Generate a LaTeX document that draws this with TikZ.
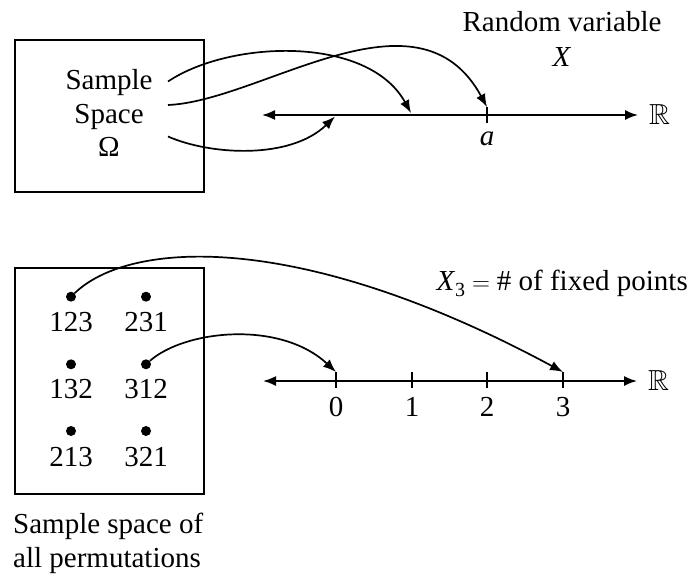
\documentclass[tikz,border=0pt]{standalone}
\usepackage{fontspec}
\setmainfont{Liberation Serif}
\usepackage{amssymb}
\usetikzlibrary{arrows.meta}
\begin{document}
\begin{tikzpicture}[x=1pt,y=-1pt,
  every node/.style={font=\fontsize{29}{35}\selectfont, inner sep=0pt},
  lbl/.style={anchor=base},
  conn/.style={line width=1.7pt, -{Latex[length=13pt,width=10pt]}},
  axis/.style={line width=1.7pt, {Latex[length=13pt,width=10pt]}-{Latex[length=13pt,width=10pt]}},
  frame/.style={draw, line width=1.7pt},
  dot/.style={circle, fill, minimum size=10pt},
  tickmark/.style={line width=1.7pt}]
\useasboundingbox (0,0) rectangle (690,580);

% ---------- top part ----------
\node[frame, minimum width=189pt, minimum height=152pt, anchor=north west] (omega) at (14,39) {};
\node[lbl] (s1) at (109,90) {Sample};
\node[lbl] (s2) at (109,124) {Space};
\node[lbl] (s3) at (109,157) {Ω};
\node[lbl] (rv1) at (562,32) {Random variable};
\node[lbl] (rv2) at (562,67) {\textit{X}};

\coordinate (L1) at (262,115);
\coordinate (R1) at (638,115);
\draw[axis] (L1) -- (R1);
\node[anchor=west] (reals1) at (649,115) {$\mathbb{R}$};
\coordinate (ta) at (487,107);
\coordinate (tab) at (487,123);
\draw[tickmark] (ta) -- (tab);
\node[lbl] (la) at (487,146) {\textit{a}};

\coordinate (o1) at (168,81.5);
\coordinate (o2) at (168,105);
\coordinate (o3) at (168,136.5);
\coordinate (p1) at (411,113);
\coordinate (p3) at (335,116.5);
\draw[conn] (o1) .. controls (230,40) and (368,35) .. (p1);
\draw[conn] (o2) .. controls (262,101) and (418,-20) .. (ta);
\draw[conn] (o3) .. controls (210,155) and (290,160) .. (p3);

% ---------- bottom part ----------
\node[frame, minimum width=189pt, minimum height=226pt, anchor=north west] (perm) at (14,267) {};
\node[dot] (d123) at (71,296.7) {};
\node[dot] (d231) at (146,296.7) {};
\node[dot] (d132) at (71,364.3) {};
\node[dot] (d312) at (146,364.3) {};
\node[dot] (d213) at (71,431) {};
\node[dot] (d321) at (146,431) {};
\node[lbl] (n123) at (71,331) {123};
\node[lbl] (n231) at (146,331) {231};
\node[lbl] (n132) at (71,398.5) {132};
\node[lbl] (n312) at (146,398.5) {312};
\node[lbl] (n213) at (71,466) {213};
\node[lbl] (n321) at (146,466) {321};

\node[anchor=base west] (cap1) at (13,533) {Sample space of};
\node[anchor=base west] (cap2) at (13,567) {all permutations};

\node[anchor=base east] (x3) at (688,290) {\textit{X}\raisebox{-0.22em}{\fontsize{20}{20}\selectfont 3}${}={}$\# of fixed points};

\coordinate (L2) at (263,381);
\coordinate (R2) at (637,381);
\draw[axis] (L2) -- (R2);
\node[anchor=west] (reals2) at (648,381) {$\mathbb{R}$};
\foreach \v/\xx in {0/336,1/412,2/487,3/563}{
  \coordinate (t\v) at (\xx,372);
  \coordinate (tb\v) at (\xx,388);
  \draw[tickmark] (t\v) -- (tb\v);
  \node[lbl] (v\v) at (\xx,416.5) {\v};
}

\draw[conn] (d123) .. controls (130,240) and (300,230) .. (t3);
\draw[conn] (d312) .. controls (185,330) and (280,320) .. (t0);
\end{tikzpicture}
\end{document}
